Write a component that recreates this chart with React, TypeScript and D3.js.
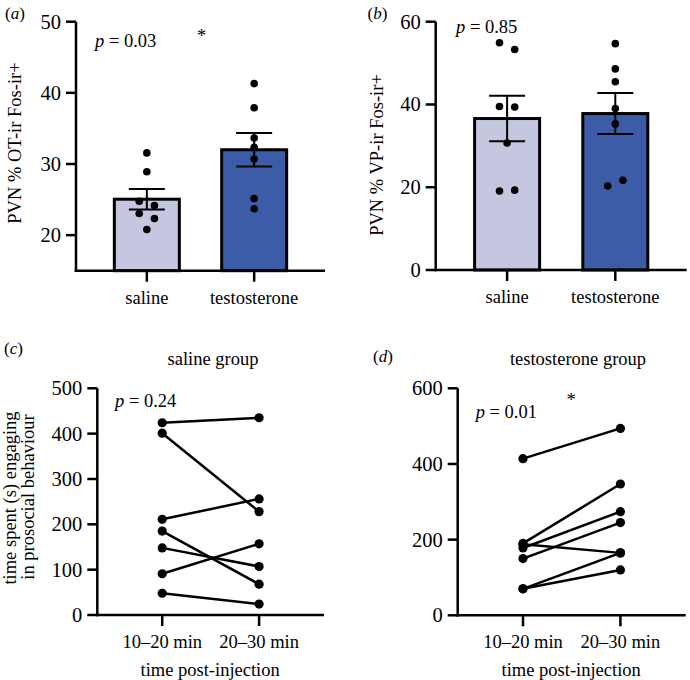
import React from "react";
import * as d3 from "d3";

const FONT = "'Liberation Serif', 'Times New Roman', Times, serif";

// ---- shared categories ----
const groups = ["saline", "testosterone"];
const groupFills = ["#c4c7df", "#3d5ca7"];

// ---- (a) PVN % OT-ir Fos-ir+ ----
const otMeans = [25.05, 32.0];
const otSem = [1.45, 2.35];
const otSaline = [31.56, 28.9, 24.77, 24.17, 23.04, 22.34, 20.8];
const otSalineSide = [0, 0, -1, 1, -1, 1, 0];
const otTestosterone = [41.3, 37.9, 33.65, 32.35, 30.7, 25.15, 23.7];
const otTestosteroneSide = [0, 0, 0, 0, 0, 0, 0];
const otTicks = [20, 30, 40, 50];

// ---- (b) PVN % VP-ir Fos-ir+ ----
const vpMeans = [36.6, 37.8];
const vpSem = [5.5, 4.95];
const vpSaline = [54.9, 53.3, 39.5, 39.4, 30.7, 19.1, 19.3];
const vpSalineSide = [-1, 1, -1, 1, 0, -1, 1];
const vpTestosterone = [54.7, 48.6, 45.5, 39.0, 35.3, 20.3, 21.7];
const vpTestosteroneSide = [0, 0, 0, 0, 0, -1, 1];
const vpTicks = [0, 20, 40, 60];

// ---- (c) saline group ----
const timepoints = ["10–20 min", "20–30 min"];
const salineEarly = [424, 401, 211, 185, 148, 91, 48];
const salineLate = [435, 228, 256, 68, 107, 157, 24];
const salineTicks = [0, 100, 200, 300, 400, 500];

// ---- (d) testosterone group ----
const testosteroneEarly = [414, 190, 178, 150, 188, 70, 70];
const testosteroneLate = [494, 347, 274, 245, 165, 165, 120];
const testosteroneTicks = [0, 200, 400, 600];

const FS = 18.5;
const TICK_FS = 20.5;
const AXIS_W = 2.5;

function YAxis({ y, ticks, left, top, bottom }) {
  return (
    <g>
      <line x1={left} x2={left} y1={top} y2={bottom + AXIS_W / 2} stroke="#000" strokeWidth={AXIS_W} />
      {ticks.map((t) => (
        <g key={t}>
          <line x1={left - 10} x2={left} y1={y(t)} y2={y(t)} stroke="#000" strokeWidth={AXIS_W} />
          <text x={left - 15} y={y(t)} textAnchor="end" dominantBaseline="central" fontSize={TICK_FS} fontFamily={FONT}>
            {t}
          </text>
        </g>
      ))}
    </g>
  );
}

function XAxis({ x, cats, left, right, bottom }) {
  return (
    <g>
      <line x1={left - AXIS_W / 2} x2={right} y1={bottom} y2={bottom} stroke="#000" strokeWidth={AXIS_W} />
      {cats.map((c) => (
        <g key={c}>
          <line x1={x(c)} x2={x(c)} y1={bottom} y2={bottom + 11} stroke="#000" strokeWidth={AXIS_W} />
          <text x={x(c)} y={bottom + 33} textAnchor="middle" fontSize={FS} fontFamily={FONT}>
            {c}
          </text>
        </g>
      ))}
    </g>
  );
}

function PLabel({ x, y, value }) {
  return (
    <text x={x} y={y} fontSize={FS} fontFamily={FONT}>
      <tspan fontStyle="italic">p</tspan>
      <tspan>{" = " + value}</tspan>
    </text>
  );
}

function PanelLetter({ x, y, letter }) {
  return (
    <text x={x} y={y} fontSize={17} fontFamily={FONT}>
      (<tspan fontStyle="italic">{letter}</tspan>)
    </text>
  );
}

function BarPanel({ left, right, top, bottom, domain, ticks, means, sems, points, sides, title, titleX, titleY }) {
  const y = d3.scaleLinear().domain(domain).range([bottom, top]);
  const x = d3.scalePoint().domain(groups).range([left, right]).padding(0.66);
  const barW = 65;
  const r = 3.8;
  const dodge = 7.6;
  return (
    <g>
      {groups.map((g, i) => {
        const cx = x(g);
        return (
          <g key={g}>
            <rect
              x={cx - barW / 2}
              y={y(means[i])}
              width={barW}
              height={bottom - y(means[i])}
              fill={groupFills[i]}
              stroke="#000"
              strokeWidth={3}
            />
            <line x1={cx} x2={cx} y1={y(means[i] - sems[i])} y2={y(means[i] + sems[i])} stroke="#000" strokeWidth={2} />
            <line x1={cx - 18} x2={cx + 18} y1={y(means[i] + sems[i])} y2={y(means[i] + sems[i])} stroke="#000" strokeWidth={2} />
            <line x1={cx - 18} x2={cx + 18} y1={y(means[i] - sems[i])} y2={y(means[i] - sems[i])} stroke="#000" strokeWidth={2} />
            {points[i].map((v, j) => (
              <circle key={j} cx={cx + sides[i][j] * dodge} cy={y(v)} r={r} fill="#000" />
            ))}
          </g>
        );
      })}
      <YAxis y={y} ticks={ticks} left={left} top={top} bottom={bottom} />
      <XAxis x={x} cats={groups} left={left} right={right} bottom={bottom} />
      <text
        transform={`translate(${titleX},${titleY}) rotate(-90)`}
        textAnchor="middle"
        fontSize={FS}
        fontFamily={FONT}
      >
        {title}
      </text>
    </g>
  );
}

function LinePanel({ left, right, top, bottom, domain, ticks, early, late }) {
  const y = d3.scaleLinear().domain(domain).range([bottom, top]);
  const x = d3.scalePoint().domain(timepoints).range([left, right]).padding(0.67);
  const line = d3
    .line()
    .x((d) => x(d[0]))
    .y((d) => y(d[1]));
  return (
    <g>
      <YAxis y={y} ticks={ticks} left={left} top={top} bottom={bottom} />
      <XAxis x={x} cats={timepoints} left={left} right={right} bottom={bottom} />
      {early.map((v, i) => (
        <path
          key={"l" + i}
          d={line([
            [timepoints[0], v],
            [timepoints[1], late[i]],
          ])}
          fill="none"
          stroke="#000"
          strokeWidth={2.5}
        />
      ))}
      {early.map((v, i) => (
        <g key={"p" + i}>
          <circle cx={x(timepoints[0])} cy={y(v)} r={4.6} fill="#000" />
          <circle cx={x(timepoints[1])} cy={y(late[i])} r={4.6} fill="#000" />
        </g>
      ))}
      <text x={(left + right) / 2 - 0.5} y={bottom + 61} textAnchor="middle" fontSize={FS} fontFamily={FONT}>
        time post-injection
      </text>
    </g>
  );
}

export default function App() {
  return (
    <svg width={690} height={680} style={{ position: "absolute", left: 0, top: 0, background: "#fff" }}>
      <rect x={0} y={0} width={690} height={680} fill="#fff" />
      {/* (a) */}
      <PanelLetter x={5} y={19} letter="a" />
      <BarPanel
        left={76}
        right={325}
        top={21.7}
        bottom={270.7}
        domain={[15, 50]}
        ticks={otTicks}
        means={otMeans}
        sems={otSem}
        points={[otSaline, otTestosterone]}
        sides={[otSalineSide, otTestosteroneSide]}
        title="PVN % OT-ir Fos-ir+"
        titleX={21}
        titleY={143}
      />
      <PLabel x={95} y={46.5} value="0.03" />
      <text x={201.7} y={41.5} textAnchor="middle" fontSize={FS} fontFamily={FONT}>*</text>

      {/* (b) */}
      <PanelLetter x={367.5} y={19} letter="b" />
      <BarPanel
        left={435.7}
        right={686.7}
        top={21.7}
        bottom={270}
        domain={[0, 60]}
        ticks={vpTicks}
        means={vpMeans}
        sems={vpSem}
        points={[vpSaline, vpTestosterone]}
        sides={[vpSalineSide, vpTestosteroneSide]}
        title="PVN % VP-ir Fos-ir+"
        titleX={383}
        titleY={155}
      />
      <PLabel x={456} y={33} value="0.85" />

      {/* (c) */}
      <PanelLetter x={4} y={354} letter="c" />
      <text x={213} y={365} textAnchor="middle" fontSize={FS} fontFamily={FONT}>saline group</text>
      <LinePanel
        left={97.3}
        right={324}
        top={388.3}
        bottom={615}
        domain={[0, 500]}
        ticks={salineTicks}
        early={salineEarly}
        late={salineLate}
      />
      <PLabel x={115} y={406.5} value="0.24" />
      <text transform="translate(16,498) rotate(-90)" textAnchor="middle" fontSize={FS} fontFamily={FONT}>
        time spent (s) engaging
      </text>
      <text transform="translate(34,497) rotate(-90)" textAnchor="middle" fontSize={FS} fontFamily={FONT}>
        in prosocial behaviour
      </text>

      {/* (d) */}
      <PanelLetter x={373} y={362} letter="d" />
      <text x={578} y={365} textAnchor="middle" fontSize={FS} fontFamily={FONT}>testosterone group</text>
      <LinePanel
        left={457.7}
        right={685.7}
        top={388.3}
        bottom={615.3}
        domain={[0, 600]}
        ticks={testosteroneTicks}
        early={testosteroneEarly}
        late={testosteroneLate}
      />
      <PLabel x={475.7} y={418} value="0.01" />
      <text x={571} y={406} textAnchor="middle" fontSize={FS} fontFamily={FONT}>*</text>
    </svg>
  );
}
